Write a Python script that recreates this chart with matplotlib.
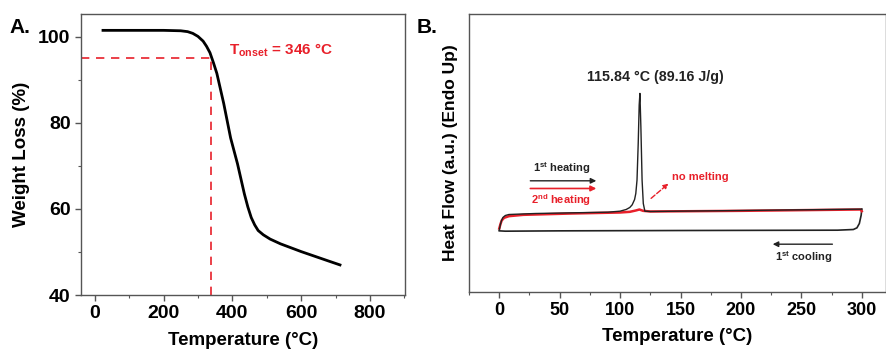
import numpy as np
import matplotlib.pyplot as plt
from matplotlib.ticker import MultipleLocator

plt.rcParams['font.family'] = ['Liberation Sans', 'DejaVu Sans']
plt.rcParams['font.weight'] = 'bold'
plt.rcParams['mathtext.fontset'] = 'custom'
plt.rcParams['mathtext.rm'] = 'Liberation Sans:bold'
plt.rcParams['mathtext.bf'] = 'Liberation Sans:bold'

RED = '#e8202a'
SPINE = '#555555'

# panel A: TGA
tga_temp = [24, 100, 200, 250, 270, 285, 300, 315, 325, 335, 345, 355, 365, 375,
            385, 395, 405, 415, 425, 435, 445, 455, 465, 475, 490, 510, 540, 570,
            600, 640, 680, 713]
tga_weight = [101.5, 101.5, 101.5, 101.4, 101.2, 100.8, 100.1, 99.0, 97.8, 96.3,
              94.0, 91.5, 88.0, 84.5, 80.5, 76.5, 73.5, 70.5, 67.0, 63.5, 60.5,
              58.0, 56.3, 55.0, 54.0, 53.0, 51.9, 51.0, 50.1, 49.0, 47.9, 47.0]
onset_temp = 337
onset_weight = 95.1

# panel B: DSC (arbitrary heat flow units)
heat1_temp = [0, 1, 2, 3, 5, 8, 15, 30, 60, 90, 100, 105, 108, 110, 112, 113, 114,
              115, 115.8, 116.4, 117.2, 118.2, 119.2, 120.5, 125, 150, 200, 250, 298, 300]
heat1_flow = [1.85, 2.03, 2.15, 2.23, 2.29, 2.32, 2.33, 2.35, 2.37, 2.39, 2.42,
              2.47, 2.53, 2.61, 2.77, 2.95, 3.35, 4.45, 5.60, 5.95, 4.95, 3.35,
              2.65, 2.42, 2.41, 2.42, 2.44, 2.46, 2.48, 2.48]
cool1_temp = [300, 299.5, 298, 296, 293, 280, 150, 50, 5, 0]
cool1_flow = [2.48, 2.30, 2.05, 1.92, 1.87, 1.85, 1.84, 1.83, 1.82, 1.83]
heat2_temp = [0, 1, 2, 4, 8, 20, 60, 100, 108, 113, 116, 119, 125, 200, 299, 300]
heat2_flow = [1.90, 2.03, 2.14, 2.22, 2.27, 2.31, 2.35, 2.38, 2.40, 2.44, 2.47,
              2.43, 2.41, 2.43, 2.47, 2.42]

fig = plt.figure(figsize=(8.87, 3.5), dpi=100)
axA = fig.add_axes([0.0913, 0.157, 0.3653, 0.803])
axB = fig.add_axes([0.5288, 0.166, 0.4700, 0.794])

for ax in (axA, axB):
    for sp in ax.spines.values():
        sp.set_color(SPINE)
        sp.set_linewidth(1.0)
    ax.tick_params(which='both', direction='out', color=SPINE)
    ax.tick_params(which='major', length=4, width=1)
    ax.tick_params(which='minor', length=2.5, width=0.8)

axA.plot(tga_temp, tga_weight, color='black', lw=2)
axA.plot([-40, onset_temp], [onset_weight, onset_weight], color=RED, lw=1.2,
         ls=(0, (5, 4)))
axA.plot([onset_temp, onset_temp], [40, onset_weight], color=RED, lw=1.2,
         ls=(0, (5, 4)))
axA.text(390, 96.9, r'T$_{\mathbf{onset}}$ = 346 °C', color=RED, fontsize=11,
         fontweight='bold', va='center')
axA.set_xlim(-40, 902)
axA.set_ylim(40, 105.3)
axA.xaxis.set_major_locator(MultipleLocator(200))
axA.xaxis.set_minor_locator(MultipleLocator(100))
axA.yaxis.set_major_locator(MultipleLocator(20))
axA.yaxis.set_minor_locator(MultipleLocator(10))
axA.tick_params(labelsize=14)
axA.set_xlabel('Temperature (°C)', fontsize=13.5, fontweight='bold', labelpad=7)
axA.set_ylabel('Weight Loss (%)', fontsize=13.5, fontweight='bold', labelpad=6)
fig.text(0.011, 0.905, 'A.', fontsize=15, fontweight='bold')

axB.plot(cool1_temp, cool1_flow, color='#222222', lw=1.2)
axB.plot(heat2_temp, heat2_flow, color=RED, lw=1.8)
axB.plot(heat1_temp, heat1_flow, color='#222222', lw=1.0)
axB.text(128.8, 6.43, '115.84 °C (89.16 J/g)', fontsize=10.3, fontweight='bold',
         ha='center', va='center', color='#222222')
axB.annotate('', xy=(82.6, 3.33), xytext=(23.4, 3.33),
             arrowprops=dict(arrowstyle='-|>', color='#222222', lw=1.0,
                             mutation_scale=8))
axB.annotate('', xy=(82.6, 3.10), xytext=(23.4, 3.10),
             arrowprops=dict(arrowstyle='-|>', color=RED, lw=1.2,
                             mutation_scale=8))
axB.text(52, 3.70, r'1$^{\mathbf{st}}$ heating', fontsize=8, fontweight='bold',
         ha='center', va='center', color='#222222')
axB.text(51, 2.75, r'2$^{\mathbf{nd}}$ heating', fontsize=8, fontweight='bold',
         ha='center', va='center', color=RED)
axB.annotate('', xy=(141.8, 3.30), xytext=(123.9, 2.75),
             arrowprops=dict(arrowstyle='-|>', color=RED, lw=1.0, ls='--',
                             mutation_scale=7))
axB.text(143, 3.45, 'no melting', fontsize=8, fontweight='bold', ha='left',
         va='center', color=RED)
axB.annotate('', xy=(224, 1.43), xytext=(278, 1.43),
             arrowprops=dict(arrowstyle='-|>', color='#222222', lw=1.0,
                             mutation_scale=8))
axB.text(252, 1.05, r'1$^{\mathbf{st}}$ cooling', fontsize=8, fontweight='bold',
         ha='center', va='center', color='#222222')
axB.set_xlim(-25, 320)
axB.set_ylim(0, 8.33)
axB.set_yticks([])
axB.xaxis.set_major_locator(MultipleLocator(50))
axB.xaxis.set_minor_locator(MultipleLocator(25))
axB.tick_params(labelsize=13)
axB.set_xlabel('Temperature (°C)', fontsize=13.5, fontweight='bold', labelpad=6)
axB.set_ylabel('Heat Flow (a.u.) (Endo Up)', fontsize=12.5, fontweight='bold',
               labelpad=8)
fig.text(0.470, 0.905, 'B.', fontsize=15, fontweight='bold')

fig.savefig('out.png', dpi=100)
